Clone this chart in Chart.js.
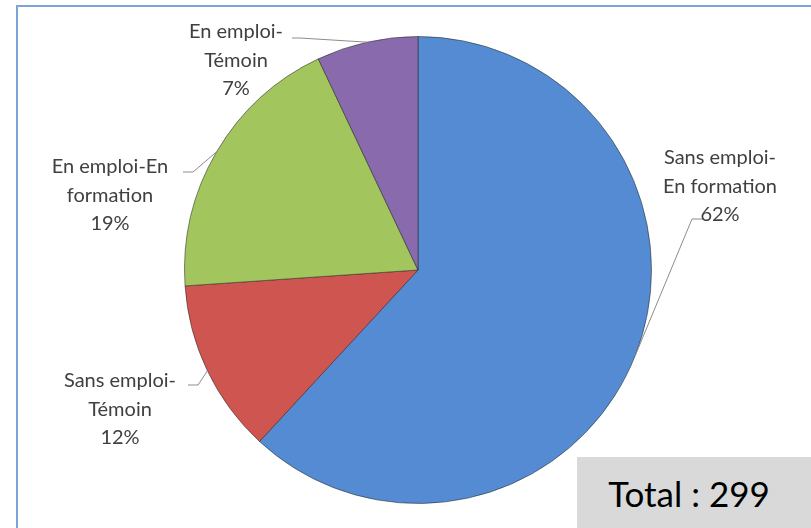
<!DOCTYPE html>
<html>
<head>
<meta charset="utf-8">
<script src="https://cdn.jsdelivr.net/npm/chart.js@4.4.0/dist/chart.umd.min.js"></script>
<style>
  html, body { margin: 0; padding: 0; background: #fff; overflow: hidden; }
  #wrap { position: relative; width: 811px; height: 528px; overflow: hidden; }
  #frame { position: absolute; left: 16px; top: 5px; width: 900px; height: 600px; border: 2px solid #7ba4d8; box-sizing: border-box; }
  #total { position: absolute; left: 577px; top: 457px; width: 234px; height: 71px; background: #d9d9d9;
           font-family: Lato, "Liberation Sans", sans-serif; font-size: 35px; color: #000;
           display: flex; align-items: center; justify-content: center; box-sizing: border-box; padding-right: 10px; }
  canvas { position: absolute; left: 0; top: 0; }
</style>
</head>
<body>
<div id="wrap">
  <div id="frame"></div>
  <canvas id="c" width="811" height="528"></canvas>
  <div id="total">Total : 299</div>
</div>
<script>
const categories = ["Sans emploi-En formation", "Sans emploi-Témoin", "En emploi-En formation", "En emploi-Témoin"];
const counts = [185, 36, 57, 21];
const labelLines = [["Sans emploi-", "En formation"], ["Sans emploi-", "Témoin"], ["En emploi-En", "formation"], ["En emploi-", "Témoin"]];
const totalCount = counts.reduce((a, b) => a + b, 0);

const palette = [
  ["#6097dc", "#548bd3", "#3a6aae"],
  ["#d86864", "#cf5550", "#a23b37"],
  ["#aed168", "#a2c65d", "#7b9b3e"],
  ["#9476ba", "#896aad", "#634b86"]
];

const labelLayout = [
  { cx: 720, y: 158, elbow: [692, 219], end: [703, 219] },
  { cx: 120, y: 381, elbow: [198, 385], end: [188, 385] },
  { cx: 110, y: 167, elbow: [193, 172], end: [183, 172] },
  { cx: 236, y: 32,  elbow: [300, 38], end: [292, 38] }
];

function grad(ctx, i) {
  const chart = ctx.chart;
  const meta = chart.getDatasetMeta(0);
  const arc = meta.data[i];
  if (!arc || !arc.outerRadius) return palette[i][1];
  const g = chart.ctx.createRadialGradient(arc.x, arc.y, 0, arc.x, arc.y, arc.outerRadius);
  g.addColorStop(0, palette[i][0]);
  g.addColorStop(0.15, palette[i][1]);
  g.addColorStop(0.93, palette[i][1]);
  g.addColorStop(1, palette[i][2]);
  return g;
}

const labelPlugin = {
  id: 'labels',
  afterDatasetsDraw(chart) {
    const ctx = chart.ctx;
    const meta = chart.getDatasetMeta(0);
    ctx.save();
    ctx.font = '20px Lato, "Liberation Sans", sans-serif';
    ctx.fillStyle = '#404040';
    ctx.textAlign = 'center';
    ctx.textBaseline = 'middle';
    meta.data.forEach((arc, i) => {
      const mid = (arc.startAngle + arc.endAngle) / 2;
      const ex = arc.x + Math.cos(mid) * arc.outerRadius;
      const ey = arc.y + Math.sin(mid) * arc.outerRadius;
      const L = labelLayout[i];
      ctx.strokeStyle = '#8c8c8c';
      ctx.lineWidth = 1;
      ctx.beginPath();
      ctx.moveTo(ex, ey);
      ctx.lineTo(L.elbow[0], L.elbow[1]);
      ctx.lineTo(L.end[0], L.end[1]);
      ctx.stroke();
      const pct = Math.round(counts[i] / totalCount * 100) + '%';
      const lines = labelLines[i].concat([pct]);
      lines.forEach((t, k) => ctx.fillText(t, L.cx, L.y + k * 28.5));
    });
    ctx.restore();
  }
};

new Chart(document.getElementById('c'), {
  type: 'pie',
  data: {
    labels: categories,
    datasets: [{
      data: counts,
      backgroundColor: (ctx) => grad(ctx, ctx.dataIndex),
      borderColor: 'rgba(40,40,40,0.55)',
      borderWidth: 1
    }]
  },
  options: {
    responsive: false,
    animation: false,
    layout: { padding: { left: 184, right: 159, top: 36, bottom: 24 } },
    plugins: { legend: { display: false }, tooltip: { enabled: false }, title: { display: false } }
  },
  plugins: [labelPlugin]
});
</script>
</body>
</html>
